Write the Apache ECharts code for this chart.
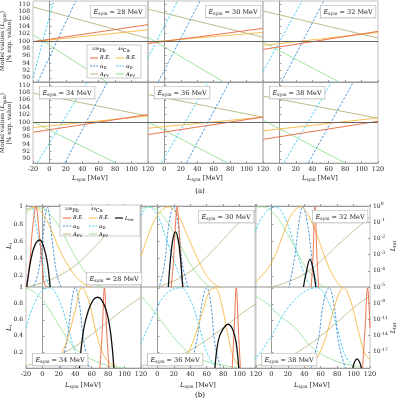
<!DOCTYPE html>
<html>
<head>
<meta charset="utf-8">
<script src="https://cdn.jsdelivr.net/npm/echarts@6/dist/echarts.min.js"></script>
<style>body{margin:0;background:#fff}#c{width:400px;height:400px}</style>
</head>
<body>
<div id="c"></div>
<script>
var FONT = 'DejaVu Serif';
var esym = [28, 30, 32, 34, 36, 38];

// (a) model values, [Lsym, % of exp. value]
var aPbRE = [[[-20,99.8],[120,104.4]],[[-20,99.3],[120,103.4]],[[-20,97.7],[120,102.6]],[[-20,97.2],[120,102]],[[-20,96.6],[120,101.3]],[[-20,95.3],[120,100.2]]];
var aCaRE = [[[-20,99.8],[120,103]],[[-20,99.7],[120,102.3]],[[-20,98.8],[120,102.3]],[[-20,98.5],[120,101.6]],[[-20,98.3],[120,101.3]],[[-20,97.6],[120,101.1]]];
var aPbAD = [[[-14,89],[32,110.8]],[[-7.4,89],[43.3,110.8]],[[2.7,89],[54,110.8]],[[19,89],[70.5,110.8]],[[27,89],[79,110.8]],[[35.3,89],[90,110.8]]];
var aCaAD = [[[-20,90],[5,110.8]],[[-20,95.5],[16,110.8]],[[-20,91.7],[27.5,110.8]],[[-14.8,89],[46,110.8]],[[-3.3,89],[53.5,110.8]],[[5.5,89],[63.7,110.8]]];
var aPbPV = [[[-20,109.2],[120,100.7]],[[-20,108.6],[120,101]],[[-20,108.1],[120,100.8]],[[-20,107.8],[120,101.6]],[[-20,107.4],[120,101.3]],[[-20,107],[120,101]]];
var aCaPV = [[[-20,101.7],[69,89]],[[-20,101],[71.7,89]],[[-20,99.7],[71.8,89]],[[-20,100],[80,89]],[[-20,100],[76,89]],[[-20,100.5],[79,89]]];

// (b) likelihoods
var bPbRE = [
 [[-20,0.07],[-16,0.3],[-12,0.75],[-8,1],[-4,0.7],[0,0.3],[4,0.08],[10,0.07]],
 [[16,0],[19,0.3],[22,0.8],[24,1],[26,0.8],[29,0.3],[32,0]],
 [[48,0],[50.5,0.4],[53,1],[55.5,0.4],[58,0]],
 [[70,0],[73,0.5],[75.5,1],[78,0.5],[81,0]],
 [[91,0],[93.5,0.5],[96,1],[98.5,0.5],[101,0]],
 [[111,0],[114,0.5],[117,1],[120,0.5]]];
var bCaRE = [
 [[-20,0.95],[-10,1],[0,0.92],[10,0.75],[20,0.52],[30,0.34],[40,0.2],[50,0.11],[60,0.06],[80,0.03],[120,0.02]],
 [[-20,0.42],[-10,0.7],[0,0.9],[13,1],[25,0.9],[35,0.7],[45,0.48],[55,0.28],[65,0.14],[80,0.05],[100,0.02]],
 [[-20,0.12],[0,0.35],[15,0.7],[25,0.92],[35.6,1],[45,0.9],[55,0.68],[65,0.42],[75,0.2],[87,0.06],[100,0.02]],
 [[10,0.03],[20,0.12],[30,0.35],[40,0.72],[48,1],[56,0.85],[64,0.5],[72,0.22],[80,0.08],[90,0.02]],
 [[22,0.02],[35,0.15],[45,0.38],[55,0.7],[63,0.95],[70,1],[78,0.8],[85,0.45],[92,0.15],[99,0.02]],
 [[44,0.02],[55,0.12],[65,0.35],[75,0.7],[83,0.95],[88,1],[96,0.85],[105,0.5],[113,0.2],[120,0.1]]];
var bPbAD = [
 [[-15,0],[-6,0.2],[0,0.6],[6,1],[12,0.6],[18,0.2],[26,0]],
 [[0,0],[8,0.3],[14,0.8],[19.5,1],[25,0.8],[31,0.3],[40,0]],
 [[20,0],[28,0.4],[34,0.85],[38,1],[44,0.8],[50,0.35],[57,0]],
 [[22,0],[30,0.35],[36,0.85],[40,1],[45,0.8],[50,0.35],[57,0]],
 [[40,0],[48,0.35],[55,0.85],[60,1],[65,0.8],[70,0.3],[77,0]],
 [[48,0],[57,0.35],[64,0.85],[70,1],[76,0.8],[82,0.3],[90,0]]];
var bCaAD = [
 [[-20,0.97],[-14,1],[-8,0.8],[-2,0.5],[4,0.2],[12,0.03],[20,0]],
 [[-20,0.9],[-11,1],[0,0.9],[10,0.65],[20,0.38],[30,0.15],[40,0.03]],
 [[-20,0.7],[-10,0.9],[5,1],[15,0.9],[25,0.65],[35,0.35],[45,0.12],[55,0.02]],
 [[-20,0.5],[-10,0.8],[0,0.97],[9,1],[20,0.85],[30,0.55],[40,0.2],[50,0.02]],
 [[-20,0.3],[-5,0.65],[10,0.92],[28,1],[40,0.85],[50,0.55],[60,0.2],[70,0.02]],
 [[-20,0.1],[0,0.4],[20,0.75],[40,0.95],[55,1],[68,0.85],[80,0.5],[90,0.15],[100,0.02]]];
var bPbPV = [
 [[-20,0.07],[0,0.12],[20,0.2],[40,0.32],[60,0.5],[80,0.7],[100,0.88],[120,1]],
 [[-20,0.03],[0,0.07],[20,0.14],[40,0.25],[60,0.42],[80,0.62],[100,0.82],[120,0.95]],
 [[-20,0.03],[0,0.07],[20,0.13],[40,0.22],[60,0.37],[80,0.55],[100,0.72],[120,0.88]],
 [[-20,0.03],[0,0.08],[20,0.16],[40,0.27],[60,0.42],[80,0.58],[100,0.74],[120,0.88]],
 [[-20,0.03],[0,0.06],[20,0.12],[40,0.22],[60,0.35],[80,0.5],[100,0.66],[120,0.8]],
 [[-20,0.03],[0,0.07],[20,0.14],[40,0.25],[60,0.4],[80,0.57],[100,0.75],[120,0.9]]];
var bCaPV = [
 [[-20,0.92],[-10,0.99],[0,0.98],[10,0.9],[20,0.78],[30,0.6],[40,0.42],[50,0.27],[60,0.15],[70,0.08],[90,0.02],[120,0]],
 [[-20,0.98],[-10,1],[0,0.96],[10,0.85],[20,0.7],[30,0.52],[40,0.34],[50,0.2],[60,0.1],[75,0.03],[100,0]],
 [[-20,1],[-10,1],[0,0.95],[10,0.84],[20,0.68],[30,0.5],[40,0.32],[50,0.2],[60,0.1],[75,0.03],[100,0]],
 [[-20,1],[-10,0.95],[0,0.85],[10,0.7],[22,0.5],[35,0.3],[50,0.16],[66,0.08],[80,0.03],[100,0]],
 [[-20,0.9],[-10,0.78],[0,0.65],[11,0.5],[25,0.32],[40,0.18],[60,0.08],[83,0.03],[100,0]],
 [[-20,0.9],[-5,0.8],[10,0.65],[29,0.5],[45,0.3],[60,0.18],[75,0.1],[90,0.05],[110,0.01]]];
// L_tot, log10 values on the right axis
var bTot = [
 [[-19,-5],[-14,-3.3],[-9,-2.4],[-3,-2.1],[2,-2.6],[6,-3.5],[9.4,-5]],
 [[13.3,-5],[16,-3.2],[19,-2.0],[22,-1.6],[25,-2.0],[28,-3.2],[30.7,-5]],
 [[39,-5],[42,-4.2],[47,-3.3],[51,-4.0],[54,-5]],
 [[45,-20],[50,-13],[56,-9.3],[62,-7.4],[67,-6.9],[72,-7.4],[78,-9.5],[83,-13.5],[87,-20]],
 [[70,-20],[74,-15],[79,-13],[86,-11.9],[92,-13],[96,-15.5],[99,-20]],
 [[99,-20],[101.5,-18.8],[104,-18.3],[107,-18.8],[109.6,-20]]];

var xTicksFirst = [-20, 0, 20, 40, 60, 80, 100, 120];
var xTicksRest = [0, 20, 40, 60, 80, 100, 120];
var aYTicks = [90, 92, 94, 96, 98, 100, 102, 104, 106, 108, 110];
var bYTicks = [0.2, 0.4, 0.6, 0.8, 1];
var totTicksTop = [0, -1, -2, -3, -4];
var totTicksBot = [-5, -8, -11, -14, -17];

var C = {pbRE:'#e8643c', caRE:'#f5b942', pbAD:'#3a8fd6', caAD:'#40d0f0', pbPV:'#b8b27a', caPV:'#92e092'};
var sub = {i:{fontFamily:FONT, fontStyle:'italic', fontSize:6.5}, s:{fontFamily:FONT, fontSize:4.5, padding:[4,0,0,0]}, u:{fontFamily:FONT, fontSize:4.5, padding:[0,0,4,0]}};

var grids = [], xAxes = [], yAxes = [], series = [], graphic = [];
var tcols = [33, 148, 263], trows = [1, 82];
var bcols = [26, 141, 255], brows = [206, 287];

function addX(gi, showLab, col) {
  xAxes.push({type:'value', gridIndex:gi, min:-20, max:120,
    axisLine:{lineStyle:{color:'#999'}}, splitLine:{show:false},
    axisTick:{inside:true, length:2, lineStyle:{color:'#999'}, customValues: xTicksFirst},
    axisLabel:{show:showLab, fontFamily:FONT, fontSize:6.5, color:'#222', margin:3,
      customValues: col === 0 ? xTicksFirst : xTicksRest}});
}
function line(xi, yi, data, color, dashed, w, smooth) {
  series.push({type:'line', xAxisIndex:xi, yAxisIndex:yi, data:data, symbol:'none', smooth:smooth ? 0.4 : false,
    clip:true, silent:true, lineStyle:{color:color, width:w || 0.9, type: dashed ? [2.5,1.5] : 'solid'}});
}
function box(x, y, e) {
  graphic.push({type:'text', left:x, top:y, z:20, style:{
    text:'{i|E}{s|sym} = ' + e + ' MeV', fontFamily:FONT, fontSize:6.5, fill:'#222', rich:sub,
    backgroundColor:'#fff', borderColor:'#aaa', borderWidth:0.6, padding:[2,3,1,3]}});
}

// (a)
for (var i = 0; i < 6; i++) {
  var r = Math.floor(i / 3), c = i % 3;
  grids.push({left:tcols[c], top:trows[r], width:115, height:81, show:true, borderColor:'#999', borderWidth:0.6});
  addX(i, r === 1, c);
  yAxes.push({type:'value', gridIndex:i, min:88.9, max:110.8,
    axisLine:{lineStyle:{color:'#999'}}, splitLine:{show:false},
    axisTick:{inside:true, length:2, lineStyle:{color:'#999'}, customValues:aYTicks},
    axisLabel:{show:c === 0, fontFamily:FONT, fontSize:6, color:'#222', margin:3, customValues:aYTicks}});
  var yi = yAxes.length - 1;
  series.push({type:'line', xAxisIndex:i, yAxisIndex:yi, data:[], symbol:'none',
    markLine:{silent:true, symbol:'none', label:{show:false}, lineStyle:{color:'#666', width:1, type:'solid'}, data:[{yAxis:100}]}});
  line(i, yi, aPbPV[i], C.pbPV);
  line(i, yi, aCaPV[i], C.caPV);
  line(i, yi, aCaAD[i], C.caAD, true);
  line(i, yi, aPbAD[i], C.pbAD, true);
  line(i, yi, aCaRE[i], C.caRE);
  line(i, yi, aPbRE[i], C.pbRE);
  if (r === 0) box(tcols[c] + 115 - 58, 5, esym[i]);
  else box(tcols[c] + 6, 86, esym[i]);
}

// (b)
for (var i = 0; i < 6; i++) {
  var r = Math.floor(i / 3), c = i % 3, gi = 6 + i;
  grids.push({left:bcols[c], top:brows[r], width:115, height:81, show:true, borderColor:'#999', borderWidth:0.6});
  addX(gi, r === 1, c);
  yAxes.push({type:'value', gridIndex:gi, min:r === 0 ? 0.07 : 0, max:1.01,
    axisLine:{lineStyle:{color:'#999'}}, splitLine:{show:false},
    axisTick:{inside:true, length:2, lineStyle:{color:'#999'}, customValues:bYTicks},
    axisLabel:{show:c === 0, fontFamily:FONT, fontSize:6, color:'#222', margin:3, customValues:bYTicks}});
  var yl = yAxes.length - 1;
  var tt = r === 0 ? totTicksTop : totTicksBot;
  yAxes.push({type:'value', gridIndex:gi, position:'right', min:r === 0 ? -5 : -20, max:r === 0 ? 0 : -5,
    axisLine:{show:false}, splitLine:{show:false},
    axisTick:{show:c === 2, inside:true, length:2, lineStyle:{color:'#999'}, customValues:tt},
    axisLabel:{show:c === 2, fontFamily:FONT, fontSize:6, color:'#222', margin:3, customValues:tt,
      formatter:function (v) { return '10{u|' + v + '}'; }, rich:sub}});
  var yr = yAxes.length - 1;
  line(gi, yl, bPbPV[i], C.pbPV, false, 0.8, true);
  line(gi, yl, bCaPV[i], C.caPV, false, 0.8, true);
  line(gi, yl, bCaAD[i], C.caAD, true, 0.9, true);
  line(gi, yl, bPbAD[i], C.pbAD, true, 0.9, true);
  line(gi, yl, bCaRE[i], C.caRE, false, 0.9, true);
  line(gi, yl, bPbRE[i], C.pbRE, false, 0.9, true);
  line(gi, yr, bTot[i], '#111', false, 1.3, true);
  if (i === 0) box(bcols[0] + 60, 272, esym[i]);
  else if (r === 0) box(bcols[c] + 115 - 58, 210, esym[i]);
  else box(bcols[c] + 6, 353, esym[i]);
}

// axis titles
function rotText(x, y, t) {
  graphic.push({type:'text', x:x, y:y, rotation:Math.PI/2, z:20, style:{text:t, fontFamily:FONT, fontSize:6, fill:'#222',
    align:'center', verticalAlign:'middle', lineHeight:7, rich:sub}});
}
rotText(6, 41, 'Model values ({i|L}{s|sym})\n[% exp. value]');
rotText(6, 123, 'Model values ({i|L}{s|sym})\n[% exp. value]');
rotText(9, 246, '{i|L}{s|i}');
rotText(9, 328, '{i|L}{s|i}');
rotText(393, 246, '{i|L}{s|tot}');
rotText(393, 328, '{i|L}{s|tot}');
for (var c = 0; c < 3; c++) {
  [[tcols[c], 178], [bcols[c], 385]].forEach(function (p) {
    graphic.push({type:'text', x:p[0] + 57, y:p[1], style:{text:'{i|L}{s|sym} [MeV]', fontFamily:FONT, fontSize:6.5, fill:'#222',
      align:'center', verticalAlign:'middle', rich:sub}});
  });
}
graphic.push({type:'text', x:200, y:191, style:{text:'(a)', fontFamily:FONT, fontSize:7, align:'center', verticalAlign:'middle'}});
graphic.push({type:'text', x:200, y:395, style:{text:'(b)', fontFamily:FONT, fontSize:7, align:'center', verticalAlign:'middle'}});

// legends
function legend(x, y, w, h, colW, rows, withTot) {
  graphic.push({type:'rect', shape:{x:x, y:y, width:w, height:h}, z:19, style:{fill:'#fff', stroke:'#aaa', lineWidth:0.6}});
  var lr = {i:{fontFamily:FONT, fontStyle:'italic', fontSize:5}, s:{fontFamily:FONT, fontSize:3.8, padding:[3,0,0,0]}, u:{fontFamily:FONT, fontSize:3.8, padding:[0,0,3,0]}};
  graphic.push({type:'text', x:x + 5, y:y + 2, z:21, style:{text:'{u|208}Pb', fontFamily:FONT, fontSize:5, rich:lr}});
  graphic.push({type:'text', x:x + 5 + colW, y:y + 2, z:21, style:{text:'{u|48}Ca', fontFamily:FONT, fontSize:5, rich:lr}});
  rows.forEach(function (row, k) {
    var yy = y + 10 + k * 8;
    [0, 1].forEach(function (j) {
      var xx = x + 3 + j * colW;
      graphic.push({type:'line', z:21, shape:{x1:xx, y1:yy + 3, x2:xx + 8, y2:yy + 3}, style:{stroke:row.c[j], lineWidth:1, lineDash: row.d ? [2,1.2] : null}});
      graphic.push({type:'text', z:21, x:xx + 10, y:yy, style:{text:row.t, fontFamily:FONT, fontSize:5, rich:lr}});
    });
  });
  if (withTot) {
    var xx = x + 3 + 2 * colW;
    graphic.push({type:'line', z:21, shape:{x1:xx, y1:y + 13, x2:xx + 8, y2:y + 13}, style:{stroke:'#111', lineWidth:1.2}});
    graphic.push({type:'text', z:21, x:xx + 10, y:y + 10, style:{text:'{i|L}{s|tot}', fontFamily:FONT, fontSize:5, rich:lr}});
  }
}
var lrows = [{t:'{i|R.E.}', c:[C.pbRE, C.caRE]}, {t:'{i|α}{s|D}', c:[C.pbAD, C.caAD], d:true}, {t:'{i|A}{s|PV}', c:[C.pbPV, C.caPV]}];
legend(87, 45, 54, 33, 26, lrows, false);
legend(60, 205, 80, 31, 26, lrows, true);

var chart = echarts.init(document.getElementById('c'), null, {renderer:'canvas'});
chart.setOption({animation:false, grid:grids, xAxis:xAxes, yAxis:yAxes, series:series, graphic:graphic});
</script>
</body>
</html>
